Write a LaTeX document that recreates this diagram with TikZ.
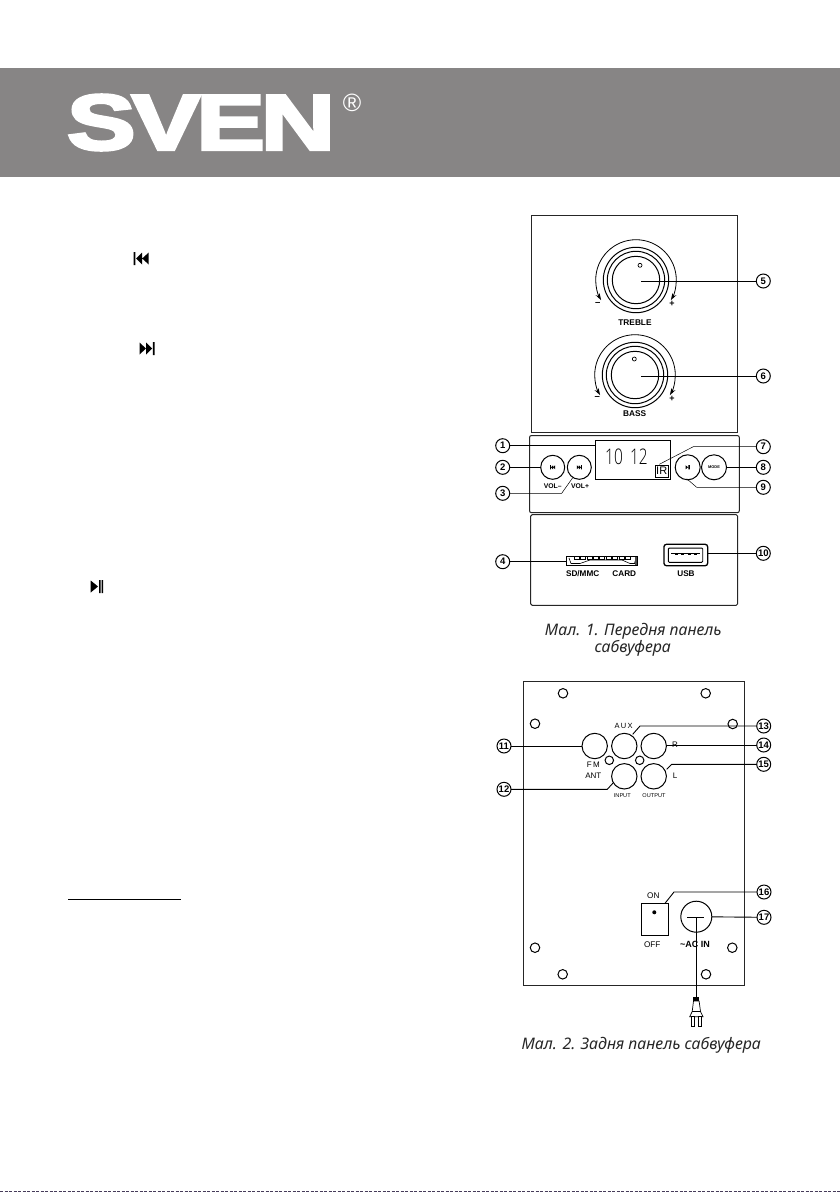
\documentclass[tikz,border=0pt]{standalone}
\usepackage{fontspec}
\usetikzlibrary{arrows.meta}
\setmainfont{Liberation Sans}
\newfontfamily\captionfnt{Noto Sans}
\newfontfamily\logofnt[FakeBold=3.5,LetterSpace=-4]{Liberation Sans}
\newfontfamily\digitfnt{Open Sans Light}
\newcommand{\fs}[1]{\fontsize{#1}{#1}\selectfont}
\tikzset{
  x=1pt,y=-1pt,
  lead/.style={draw=black,line width=0.9pt},
  panel/.style={draw=black!85,line width=1pt},
  num/.style={circle,draw=black,line width=1pt,minimum size=14pt,inner sep=0pt,outer sep=0pt,font=\fs{9.5}\bfseries},
  ring/.style={circle,draw=black,line width=1pt,inner sep=0pt,outer sep=0pt,minimum size=#1},
  hole/.style={ring=9.5pt,line width=1pt},
  lab/.style={inner sep=0pt,outer sep=0pt,font=\fs{#1}\bfseries},
  reg/.style={inner sep=0pt,outer sep=0pt,font=\fs{#1}},
  captext/.style={inner sep=0pt,outer sep=0pt,font=\fs{15.9}\captionfnt\itshape,text=black!85},
  swp/.style={-{Stealth[length=7pt,width=4.5pt]},draw=black,line width=0.8pt},
}
\newcommand{\previc}[3]{\fill[shift={(#1,#2)},scale=#3] (-7.5,-6.5) rectangle (-5.8,6.5) (-5.2,0)--(1,-6)--(1,6)--cycle (1,0)--(7.5,-6)--(7.5,6)--cycle;}
\newcommand{\nextic}[3]{\fill[shift={(#1,#2)},scale=#3] (7.5,-6.5) rectangle (5.8,6.5) (5.2,0)--(-1,-6)--(-1,6)--cycle (-1,0)--(-7.5,-6)--(-7.5,6)--cycle;}
\newcommand{\playic}[3]{\fill[shift={(#1,#2)},scale=#3] (-6.3,-6)--(1,0)--(-6.3,6)--cycle (2,-6.5) rectangle (3.6,6.5) (4.6,-6.5) rectangle (6.2,6.5);}
\begin{document}
\begin{tikzpicture}
\useasboundingbox (0,0) rectangle (840,1192);
\fill[white] (0,0) rectangle (840,1192);
% header
\fill[fill={rgb,255:red,135;green,133;blue,133}] (0,68) rectangle (840,177);
\node[inner sep=0pt,text=white,anchor=center] (logo) at (201,122.5) {\resizebox{268pt}{55pt}{\logofnt\bfseries SVEN}};
\node[inner sep=0pt,text=white,font=\fs{25}] (reg) at (352,103) {®};
% left column fragments
\previc{141.2}{258.5}{1}
\nextic{147}{348.5}{1}
\playic{97}{586.5}{1}
\draw[line width=0.8pt] (68,899) -- (181,899);
% --- top panel
\draw[panel] (531,215) rectangle (737,432);
\foreach \nm/\cx/\cy/\mx/\my in {t/636/280/640/265.3, b/635/375/634.3/359}{
  \node[ring=47.4pt] (\nm k1) at (\cx,\cy) {};
  \node[ring=57.4pt] (\nm k2) at (\cx,\cy) {};
  \node[ring=65.4pt] (\nm k3) at (\cx,\cy) {};
  \node[ring=4pt,line width=0.7pt] (\nm m) at (\mx,\my) {};
  \draw[swp] (\cx,\cy-40.3) arc[start angle=270,end angle=150,radius=40.3];
  \draw[swp] (\cx,\cy-40.3) arc[start angle=270,end angle=390,radius=40.3];
}
\node[lab=9.5] (tminus) at (597.7,304) {–};
\node[lab=9] (tplus) at (672,304) {+};
\node[lab=9.5] (bminus) at (597.3,398) {–};
\node[lab=9] (bplus) at (672,399) {+};
\node[lab=8.3] (treble) at (635,322.3) {TREBLE};
\node[lab=8.3] (bass) at (634.7,414) {BASS};
\node[num] (n5) at (763.3,281) {5};
\node[num] (n6) at (763.3,376) {6};
\coordinate (c5) at (641,281);
\coordinate (c6) at (641,376);
\draw[lead] (c5) -- (n5);
\draw[lead] (c6) -- (n6);
% --- control panel
\draw[panel,rounded corners=2pt] (529.5,435.5) rectangle (739.3,512.7);
\node[draw=black,line width=0.9pt,minimum width=75.4pt,minimum height=39.7pt,inner sep=0pt,outer sep=0pt] (disp) at (633,459.8) {};
\node[inner sep=0pt,font=\fs{21.5}\digitfnt] (digits) at (626.5,457.2) {\scalebox{0.72}[1]{10\hspace{10pt}12}};
\node[draw=black,line width=0.8pt,minimum width=13pt,minimum height=12pt,inner sep=0pt,outer sep=0pt,font=\fs{11}] (ir) at (661.7,471) {IR};
\node[ring=24pt] (bprev) at (552.7,467.3) {};
\node[ring=24pt] (bnext) at (579.3,467.3) {};
\node[ring=25pt] (bplay) at (687.7,467.3) {};
\node[ring=25pt] (bmode) at (714,467.3) {};
\previc{552.7}{467.3}{0.33}
\nextic{579.3}{467.3}{0.33}
\playic{687.7}{467.3}{0.33}
\node[lab=3.9] (modet) at (714,467.3) {MODE};
\node[lab=6.8] (vm) at (552.7,485.7) {VOL–};
\node[lab=6.8] (vp) at (580,485.7) {VOL+};
\node[num] (n1) at (502.7,445.7) {1};
\node[num] (n2) at (502.7,467.3) {2};
\node[num] (n3) at (502.7,493.3) {3};
\node[num] (n7) at (763.3,446.7) {7};
\node[num] (n8) at (763.3,467.3) {8};
\node[num] (n9) at (763.3,487.3) {9};
\coordinate (d1) at (disp.west |- n1);
\draw[lead] (n1) -- (d1);
\draw[lead] (n2) -- (bprev);
\coordinate (e3) at (561.7,493.3);
\coordinate (f3) at (572.7,477.7);
\draw[lead,line width=0.5pt] (n3) -- (e3) -- (f3);
\coordinate (e7) at (693.3,446.7);
\coordinate (f7) at (659.3,464.3);
\draw[lead,line width=0.5pt] (n7) -- (e7) -- (f7);
\draw[lead] (n8) -- (bmode);
\coordinate (e9) at (696.7,487.3);
\coordinate (f9) at (686.7,478.7);
\draw[lead,line width=0.5pt] (n9) -- (e9) -- (f9);
% --- card panel
\draw[panel,rounded corners=1.5pt] (530.7,514.7) rectangle (737.7,605.3);
\node[draw=black,line width=1.2pt,minimum width=71pt,minimum height=9pt,inner sep=0pt,outer sep=0pt] (slot) at (601.7,561) {};
\foreach \i in {0,...,8}{\draw[line width=0.6pt,fill=white] (574+\i*6.4,556.5) rectangle +(5,3);}
\draw[line width=0.6pt] (569,558) -- (571,563.5) -- (580,563.5) -- (590,560) -- (622,560) -- (630,563.5) -- (634.5,563.5) -- (636,558);
\fill[black!70] (634.8,556.5) rectangle (637,565.3);
\node[draw=black,line width=1.3pt,rounded corners=2.5pt,minimum width=43.7pt,minimum height=21.4pt,inner sep=0pt,outer sep=0pt] (usb) at (685.8,555) {};
\node[draw=black,line width=0.9pt,rounded corners=1pt,minimum width=34.4pt,minimum height=14.3pt,inner sep=0pt,outer sep=0pt] (usbin) at (685.5,555.2) {};
\fill (671,552.5) rectangle (700,553.8);
\foreach \i in {0,1,2,3}{\fill (675+\i*6.3,553.8) rectangle +(3,1.3);}
\node[lab=8.2] (sd) at (582.7,573.7) {SD/MMC};
\node[lab=8.2] (card) at (624.3,573.7) {CARD};
\node[lab=8.2] (usbt) at (686,573.7) {USB};
\node[num] (n4) at (502.7,561.7) {4};
\node[num] (n10) at (763.3,553.3) {10};
\coordinate (s4) at (slot.west |- n4);
\coordinate (u10) at (usb.east |- n10);
\draw[lead] (n4) -- (s4);
\draw[lead] (n10) -- (u10);
\node[captext] (cap1a) at (633.3,631) {Мал. 1. Передня панель};
\node[captext] (cap1b) at (632.7,648.3) {сабвуфера};
% --- rear panel
\draw[panel] (523.5,681.3) rectangle (744.3,985.7);
\foreach \i/\x/\y in {1/563/693.3,2/705.7/693.3,3/535/723.7,4/732.7/724,5/535/947.7,6/732.3/947.7,7/562.7/974.3,8/706/974.3}{
  \node[hole] (h\i) at (\x,\y) {};
}
\node[ring=25.4pt] (jfm) at (594.7,746) {};
\node[ring=25.4pt] (jaux) at (624.3,746) {};
\node[ring=25.4pt] (jr) at (653.7,746) {};
\node[ring=25.4pt] (jin) at (624.3,776.3) {};
\node[ring=25.4pt] (jout) at (653.7,776.3) {};
\node[ring=8.5pt] (s1) at (609.3,760.3) {};
\node[ring=8.5pt] (s2) at (639.7,760.3) {};
\node[reg=7.5] (taux) at (623.7,726) {A\,U\,X};
\node[reg=8] (tfm) at (593.3,764.3) {F\,M};
\node[reg=8] (tant) at (593.3,775.3) {ANT};
\node[reg=8] (tr) at (675,745) {R};
\node[reg=8] (tl) at (675,775.7) {L};
\node[reg=5.6] (tin) at (622.3,796) {INPUT};
\node[reg=5.6] (tout) at (654,796) {OUTPUT};
\node[num] (n11) at (504,746) {11};
\node[num] (n12) at (504,789.3) {12};
\node[num] (n13) at (763.7,726) {13};
\node[num] (n14) at (763.7,745) {14};
\node[num] (n15) at (763.7,764.3) {15};
\node[num] (n16) at (764,892) {16};
\node[num] (n17) at (764,917.3) {17};
\draw[lead] (n11) -- (jfm);
\coordinate (e12) at (607.3,789.3);
\coordinate (f12) at (613.3,782.7);
\draw[lead] (n12) -- (e12) -- (f12);
\coordinate (e13) at (640,726);
\coordinate (f13) at (632.7,734.3);
\draw[lead] (n13) -- (e13) -- (f13);
\coordinate (r14) at (666.5,745);
\draw[lead] (n14) -- (r14);
\coordinate (e15) at (671.7,764.3);
\coordinate (f15) at (666.7,769.3);
\draw[lead] (n15) -- (e15) -- (f15);
\node[draw=black,line width=1pt,minimum width=27pt,minimum height=32pt,inner sep=0pt,outer sep=0pt] (sw) at (654.8,919.3) {};
\fill (654.3,912.3) circle (2);
\node[reg=8.2] (ton) at (653.3,896) {ON};
\node[reg=8.2] (toff) at (652.3,944.7) {OFF};
\node[ring=31pt] (ac) at (696.3,916.7) {};
\node[lab=9] (tac) at (695,944) {\textasciitilde AC IN};
\coordinate (e16) at (674,892);
\coordinate (f16) at (665,903.3);
\draw[lead] (n16) -- (e16) -- (f16);
\draw[lead] (n17) -- (ac);
\coordinate (ha) at (687.3,917.3);
\coordinate (hb) at (704,917.3);
\draw[lead] (ha) -- (hb);
\coordinate (vt) at (696.3,917.3);
\coordinate (pl) at (696.3,996.5);
\draw[lead] (vt) -- (pl);
% plug
\fill (693.3,996.5) rectangle (699.3,1000.5);
\draw[line width=0.7pt,fill=white] (693.5,1001) -- (699.1,1001) -- (700.5,1011.5) -- (703,1016.7) -- (689.7,1016.7) -- (692.2,1011.5) -- cycle;
\draw[line width=0.7pt] (692.2,1011.5) -- (700.5,1011.5);
\draw[line width=0.7pt,fill=white] (691.7,1016.7) rectangle (694.2,1026);
\draw[line width=0.7pt,fill=white] (698.5,1016.7) rectangle (701.5,1026);
\node[captext] (cap2) at (641.3,1045.7) {Мал. 2. Задня панель сабвуфера};
% bottom edge strip
\draw[line width=1pt,draw={rgb,255:red,70;green,60;blue,90},dash pattern=on 3pt off 1.5pt] (0,1191.5) -- (840,1191.5);
\end{tikzpicture}
\end{document}
